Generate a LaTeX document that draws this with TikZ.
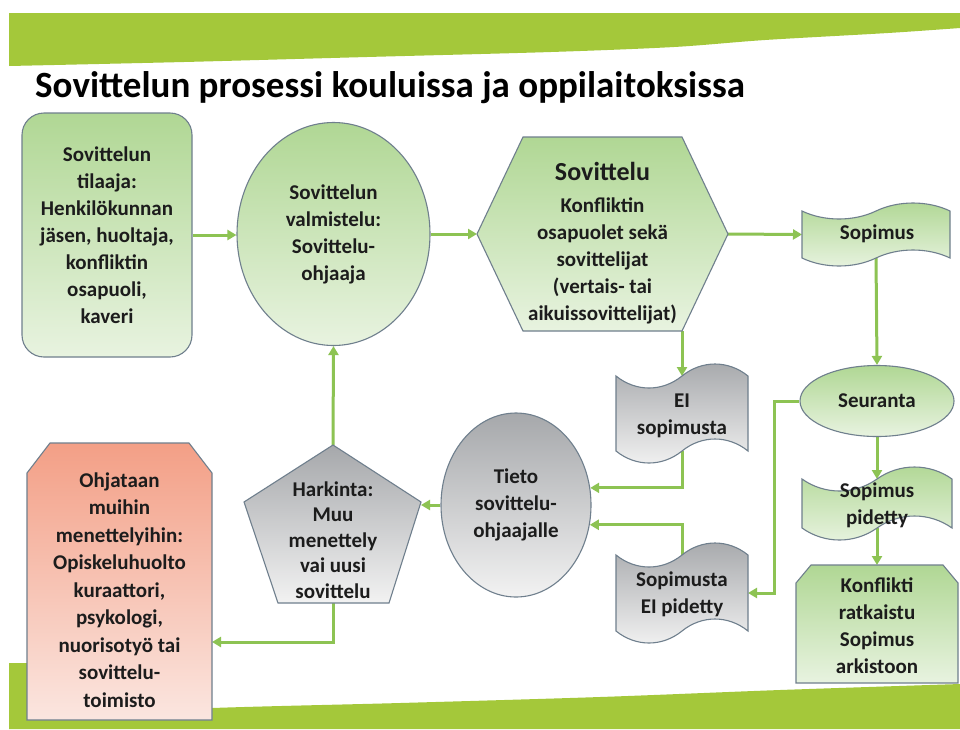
\documentclass[tikz,border=0pt]{standalone}
\usepackage{fontspec}
\setmainfont{Carlito}
\usetikzlibrary{shapes.geometric,arrows.meta,calc}
\definecolor{band}{HTML}{A4C83A}
\definecolor{connc}{HTML}{8DC353}
\definecolor{bord}{HTML}{6F7F8D}
\definecolor{txtc}{HTML}{1C1C1C}
\definecolor{gtop}{HTML}{B0D794}
\definecolor{gbot}{HTML}{E8F3E0}
\definecolor{ktop}{HTML}{A6A8AB}
\definecolor{kbot}{HTML}{F2F2F2}
\definecolor{rtop}{HTML}{F39F86}
\definecolor{rbot}{HTML}{FBE6E0}
\pgfdeclarelayer{bandlayer}
\pgfdeclarelayer{connlayer}
\pgfdeclarelayer{shapelayer}
\pgfsetlayers{bandlayer,connlayer,shapelayer,main}
% tape: x0, x1, ytop, ybot, amplitude, name, style
\newcommand\tapepath[7]{%
  \path[#7] (#1,{#3+#5})
    .. controls ({#1+0.15*(#2-#1)},{#3+2.333*#5}) and ({#1+0.35*(#2-#1)},{#3+2.333*#5}) .. ({(#1+#2)/2},{#3+#5})
    .. controls ({#1+0.65*(#2-#1)},{#3-0.333*#5}) and ({#1+0.85*(#2-#1)},{#3-0.333*#5}) .. (#2,{#3+#5})
    -- (#2,{#4-#5})
    .. controls ({#2-0.15*(#2-#1)},{#4-2.333*#5}) and ({#2-0.35*(#2-#1)},{#4-2.333*#5}) .. ({(#1+#2)/2},{#4-#5})
    .. controls ({#2-0.65*(#2-#1)},{#4+0.333*#5}) and ({#2-0.85*(#2-#1)},{#4+0.333*#5}) .. (#1,{#4-#5})
    -- cycle;
  \coordinate (#6-tm) at ({(#1+#2)/2},{#3+#5});
  \coordinate (#6-bm) at ({(#1+#2)/2},{#4-#5});
  \coordinate (#6-l) at (#1,{(#3+#4)/2});
  \coordinate (#6-r) at (#2,{(#3+#4)/2});
}
\begin{document}
\begin{tikzpicture}[x=1pt,y=-1pt,
  txt/.style={font=\fontsize{21}{27}\selectfont\bfseries, text=txtc, align=center, inner sep=0pt},
  gfill/.style={top color=gtop, bottom color=gbot, draw=bord, line width=1.1pt},
  kfill/.style={top color=ktop, bottom color=kbot, draw=bord, line width=1.1pt},
  rfill/.style={top color=rtop, bottom color=rbot, draw=bord, line width=1.1pt},
  conn/.style={draw=connc, line width=3pt, -{Triangle[length=9pt,width=10pt]}}]
\useasboundingbox (0,0) rectangle (960,729);

% background and bands
\begin{pgfonlayer}{bandlayer}
\fill[white] (0,0) rectangle (960,729);
\fill[band] (9,13) -- (960,13)
  -- plot[smooth] coordinates {(960,28) (888,33) (765,40) (674,47) (551,52) (367,57) (184,62) (9,66)} -- cycle;
\fill[band] (9,729) -- (9,663) -- (28,663)
  -- plot[smooth] coordinates {(30,716) (212,708) (400,703) (600,697) (780,690) (960,684)} -- (960,729) -- cycle;
\end{pgfonlayer}

% title
\node[anchor=base west, inner sep=0pt, text=black, font=\fontsize{37}{40}\selectfont\bfseries] (title) at (35,97) {Sovittelun prosessi kouluissa ja oppilaitoksissa};

% green nodes
\node[txt, gfill, rectangle, rounded corners=22pt, minimum width=170pt, minimum height=244pt] (req) at (107,235)
  {Sovittelun\\tilaaja:\\Henkilökunnan\\jäsen, huoltaja,\\konfliktin\\osapuoli,\\kaveri};
\node[txt, gfill, ellipse, minimum width=193pt, minimum height=223pt] (prep) at (333.5,234)
  {Sovittelun\\valmistelu:\\Sovittelu-\\ohjaaja};

% hexagon
\coordinate (hexW) at (477,234);
\coordinate (hexNW) at (523,137);
\coordinate (hexNE) at (682,137);
\coordinate (hexE) at (728,234);
\coordinate (hexSE) at (682,331);
\coordinate (hexSW) at (523,331);
\begin{pgfonlayer}{shapelayer}
\path[gfill] (hexW) -- (hexNW) -- (hexNE) -- (hexE) -- (hexSE) -- (hexSW) -- cycle;
\end{pgfonlayer}
\node[txt] (hex) at (602.5,243)
  {{\fontsize{26}{30}\selectfont Sovittelu}\\[5pt]Konfliktin\\osapuolet sekä\\sovittelijat\\(vertais- tai\\aikuissovittelijat)};

% tapes
\begin{pgfonlayer}{shapelayer}
\tapepath{802}{950}{203}{266}{8}{sop}{gfill}
\tapepath{616}{748}{364}{463}{12}{ei}{kfill}
\tapepath{616}{748}{543}{643}{12}{pe}{kfill}
\tapepath{802}{952}{467}{540}{12}{pid}{gfill}
\end{pgfonlayer}
\node[txt] (sop) at (877,234) {Sopimus};
\node[txt] (ei) at (682,416) {EI\\sopimusta};
\node[txt] (pe) at (682,594) {Sopimusta\\EI pidetty};
\node[txt] (pid) at (877,505) {Sopimus\\pidetty};

\node[txt, gfill, ellipse, minimum width=154pt, minimum height=71pt] (seur) at (877,401) {Seuranta};

% Konflikti box
\coordinate (konfT) at (877,565);
\begin{pgfonlayer}{shapelayer}
\path[gfill] (796,583) -- (811,565) -- (943,565) -- (958,583) -- (958,683) -- (796,683) -- cycle;
\end{pgfonlayer}
\node[txt] (konf) at (877,626) {Konflikti\\ratkaistu\\Sopimus\\arkistoon};

% Tieto
\node[txt, kfill, ellipse, minimum width=150pt, minimum height=184pt] (tieto) at (516,505)
  {Tieto\\sovittelu-\\ohjaajalle};

% pentagon
\coordinate (pT) at (333,445);
\coordinate (pR) at (421,502);
\coordinate (pBR) at (389,603);
\coordinate (pB) at (333,603);
\coordinate (pBL) at (278,603);
\coordinate (pL) at (244,502);
\begin{pgfonlayer}{shapelayer}
\path[kfill] (pT) -- (pR) -- (pBR) -- (pBL) -- (pL) -- cycle;
\end{pgfonlayer}
\node[txt, font=\fontsize{21}{25.5}\selectfont\bfseries] (pent) at (333,540) {Harkinta:\\Muu\\menettely\\vai uusi\\sovittelu};

% red box
\coordinate (redR) at (212,581);
\begin{pgfonlayer}{shapelayer}
\path[rfill] (27,473) -- (50,443) -- (189,443) -- (212,473) -- (212,720) -- (27,720) -- cycle;
\end{pgfonlayer}
\node[txt, font=\fontsize{21}{27.5}\selectfont\bfseries] (red) at (119.5,590)
  {Ohjataan\\muihin\\menettelyihin:\\Opiskeluhuolto\\kuraattori,\\psykologi,\\nuorisotyö tai\\sovittelu-\\toimisto};

% connectors
\coordinate (bendB) at (333,642);
\begin{pgfonlayer}{connlayer}
\draw[conn] (req.east) -- (req.east -| prep.west);
\draw[conn] (prep.east) -- (hexW);
\draw[conn] (hexE) -- (sop-l);
\draw[conn] (sop-bm) -- (seur.north);
\draw[conn] (hexSE) -- (ei-tm);
\draw[conn] (ei-bm) |- (tieto.13);
\draw[conn] (pe-tm) |- (tieto.-15);
\draw[conn] (seur.west) -- ++(-25,0) |- (pe-r);
\draw[conn] (seur.south) -- (pid-tm);
\draw[conn] (pid-bm) -- (konfT);
\draw[conn] (tieto.west) -- (tieto.west -| pR);
\draw[conn] (pT) -- (prep.south);
\draw[conn] (pB) -- (bendB) -- (bendB -| redR);
\end{pgfonlayer}
\end{tikzpicture}
\end{document}
